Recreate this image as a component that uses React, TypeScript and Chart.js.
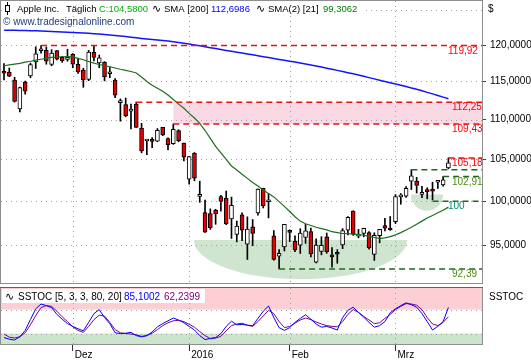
import React, { useEffect, useRef } from 'react';
import { Chart, registerables } from 'chart.js';
Chart.register(...registerables);

// ---------- data ----------
const dates = [
  '11.11.15','12.11.15','13.11.15','16.11.15','17.11.15','18.11.15','19.11.15','20.11.15','23.11.15','24.11.15','25.11.15','27.11.15','30.11.15',
  '01.12.15','02.12.15','03.12.15','04.12.15','07.12.15','08.12.15','09.12.15','10.12.15','11.12.15','14.12.15','15.12.15','16.12.15','17.12.15','18.12.15','21.12.15','22.12.15','23.12.15','24.12.15','28.12.15','29.12.15','30.12.15','31.12.15',
  '04.01.16','05.01.16','06.01.16','07.01.16','08.01.16','11.01.16','12.01.16','13.01.16','14.01.16','15.01.16','19.01.16','20.01.16','21.01.16','22.01.16','25.01.16','26.01.16','27.01.16','28.01.16','29.01.16',
  '01.02.16','02.02.16','03.02.16','04.02.16','05.02.16','08.02.16','09.02.16','10.02.16','11.02.16','12.02.16','16.02.16','17.02.16','18.02.16','19.02.16','22.02.16','23.02.16','24.02.16','25.02.16','26.02.16','29.02.16',
  '01.03.16','02.03.16','03.03.16','04.03.16','07.03.16','08.03.16','09.03.16','10.03.16','11.03.16','14.03.16','15.03.16'
];
const opens = [
  116.37,116.26,115.20,111.38,114.92,115.76,117.64,119.20,119.27,117.33,119.21,118.29,117.99,
  118.75,117.34,116.55,115.29,118.98,117.52,117.64,116.04,115.19,112.18,111.94,111.07,112.02,108.91,107.28,107.40,107.27,109.00,107.59,106.96,108.58,107.01,
  102.61,105.75,100.56,98.68,98.55,98.97,100.55,100.32,97.96,96.20,98.41,95.10,97.06,98.63,101.52,99.93,96.04,93.79,94.79,
  96.47,95.42,95.00,95.86,96.52,93.13,94.29,95.92,93.79,94.19,95.02,96.67,98.84,96.00,96.31,96.40,93.98,96.05,97.20,96.86,
  97.65,100.51,100.58,102.37,102.39,100.78,101.31,101.41,102.24,101.91,103.96
];
const highs = [
  117.42,116.82,115.57,114.24,115.05,117.49,119.75,119.92,119.73,119.35,119.23,118.41,119.41,
  118.81,118.11,116.79,119.25,119.86,118.60,117.69,116.94,115.39,112.68,112.80,111.99,112.25,109.52,107.37,107.72,108.85,109.00,107.69,109.43,108.70,107.03,
  105.37,105.85,102.37,100.13,99.11,99.06,100.69,101.19,100.48,97.71,98.65,98.19,97.88,101.46,101.53,100.88,96.63,94.52,97.34,
  96.71,96.04,96.84,97.33,96.92,95.70,95.94,96.35,94.72,94.50,96.85,98.21,98.89,96.76,96.90,96.50,96.38,96.76,98.02,98.23,
  100.77,100.89,101.71,103.75,102.83,101.76,101.58,102.24,102.28,102.91,105.18
];
const lows = [
  115.21,115.65,112.27,111.00,113.32,115.50,116.76,118.85,117.34,117.12,117.92,117.60,117.75,
  116.86,116.08,114.22,115.11,117.81,116.86,115.08,115.51,112.85,109.79,110.35,108.80,108.98,105.81,105.57,106.45,107.20,107.95,106.18,106.86,107.18,104.82,
  102.00,102.41,99.87,96.43,96.76,97.34,98.84,97.30,95.74,95.36,95.50,93.42,94.94,98.37,99.21,98.07,93.34,92.39,94.35,
  95.40,94.28,94.08,95.19,93.69,93.04,93.93,94.10,92.59,93.01,94.61,96.15,96.09,95.80,95.92,94.55,93.32,95.25,96.58,96.65,
  97.42,99.64,100.45,101.37,100.96,100.40,100.27,100.15,101.50,101.78,103.85
];
const closes = [
  116.11,115.72,112.34,114.18,113.69,117.29,118.78,119.30,117.75,118.88,118.03,117.81,118.30,
  117.34,116.28,115.20,119.03,118.28,118.23,115.62,116.17,113.18,112.48,110.49,111.34,108.98,106.03,107.33,107.23,108.61,108.03,106.82,108.74,107.32,105.26,
  105.35,102.71,100.70,96.45,96.96,98.53,99.96,97.39,99.52,97.13,96.66,96.79,96.30,101.42,99.44,99.99,93.42,94.09,97.34,
  96.43,94.48,96.35,96.60,94.02,95.01,94.99,94.27,93.70,93.99,96.64,98.12,96.26,96.04,96.88,94.69,96.10,96.76,96.91,96.69,
  100.53,100.75,101.50,103.01,101.87,101.03,101.12,101.17,102.26,102.52,104.58
];
const sma200 = [
  122.10,122.09,122.08,122.06,122.05,122.03,122.00,121.98,121.95,121.92,121.88,121.84,121.80,
  121.77,121.74,121.70,121.65,121.60,121.55,121.48,121.42,121.35,121.27,121.19,121.10,121.02,120.93,120.85,120.78,120.70,120.63,120.55,120.45,120.35,120.25,
  120.13,120.02,119.90,119.77,119.63,119.50,119.38,119.25,119.13,119.00,118.88,118.75,118.63,118.50,118.38,118.25,118.13,118.00,117.88,
  117.75,117.63,117.50,117.36,117.22,117.09,116.95,116.80,116.65,116.50,116.35,116.19,116.03,115.86,115.70,115.52,115.35,115.17,115.00,114.83,
  114.67,114.50,114.32,114.13,113.95,113.75,113.55,113.35,113.13,112.92,112.70
];
const sma21 = [
  117.13,117.25,117.36,117.45,117.62,117.75,117.90,118.02,118.15,118.28,118.33,118.37,118.38,
  118.35,118.15,117.95,117.72,117.50,117.30,117.15,117.00,116.82,116.65,116.50,116.35,116.15,115.60,115.00,114.50,114.10,113.70,113.20,112.60,112.00,111.46,
  110.80,110.20,109.50,108.60,107.60,106.60,105.80,105.00,104.20,103.70,103.20,102.70,102.20,101.80,101.30,100.90,100.50,99.95,99.40,
  98.80,98.20,97.70,97.40,97.20,97.00,96.85,96.70,96.50,96.40,96.30,96.28,96.22,96.17,96.10,95.98,95.85,95.72,95.80,95.95,
  96.15,96.40,96.70,97.00,97.35,97.70,98.05,98.35,98.65,98.95,99.31
];
const stochK = [
  10,6,4,12,28,55,82,94,90,85,68,56,45,
  38,32,27,48,70,80,60,45,22,20,21,23,15,12,15,24,37,45,52,59,54,47,
  38,29,15,5,8,10,20,38,51,42,43,41,40,58,76,89,60,35,28,
  35,48,58,67,56,44,36,38,34,29,60,78,86,73,61,48,36,40,50,72,
  82,90,97,92,86,70,50,29,38,50,85.1
];
const stochD = [
  19,11,9,12,22,42,65,85,90,88,76,62,50,
  37,28,23,38,55,66,64,48,30,22,20,19,17,13,15,21,30,40,47,52,53,50,
  43,36,25,15,7,9,13,27,40,44,46,41,38,50,64,78,70,50,35,
  38,46,54,59,55,49,44,40,38,37,50,68,80,73,63,54,45,47,58,68,
  80,88,95,94,91,80,60,44,40,48,62.2
];
const priceTicks = [95, 100, 105, 110, 115, 120];
const priceGrid = [95, 100, 105, 110, 115, 120, 125];
const monthTickIdx = [13, 35, 54, 74];
const monthLabels = ['Dez', '2016', 'Feb', 'Mrz'];

// annotation levels (value, start bar)
const RED = '#e41414';
const DGREEN = '#1c6a1c';
const levels = [
  { value: 119.92, from: 7, color: RED, label: '119,92', labelColor: '#ff0000', lx: 448 },
  { value: 112.25, from: 25, color: RED, label: '112,25', labelColor: '#ff0000', lx: 452 },
  { value: 109.43, from: 32, color: RED, label: '109,43', labelColor: '#ff0000', lx: 452 },
  { value: 105.18, from: 84, color: RED, label: '105,18', labelColor: '#ff0000', lx: 452 },
  { value: 103.75, from: 77, color: DGREEN, label: '', labelColor: '', lx: 0 },
  { value: 102.91, from: 83, color: DGREEN, label: '102,91', labelColor: '#4d8a12', lx: 452 },
  { value: 100.0, from: 81, color: DGREEN, label: '100', labelColor: '#078a6e', lx: 448 },
  { value: 92.39, from: 52, color: DGREEN, label: '92,39', labelColor: '#4d8a12', lx: 452 },
];
const zone = { from: 32, top: 112.25, bottom: 109.43 };
const bowls = [
  { from: 35.9, to: 76.2, top: 95.57, bottom: 91.28 },
  { from: 76.9, to: 83.0, top: 100.77, bottom: 98.9 },
];

const X_MIN = -0.567, X_MAX = 90.35;
const Y_MIN = 90.89, Y_MAX = 126.33;
const FAM = '"Liberation Sans", Arial, sans-serif';
const F = (s: number) => `${s}px ${FAM}`;
const WAVE = (s: number) => `${s}px "DejaVu Sans", sans-serif`;

const fmtPrice = (v: number) => v.toFixed(4).replace('.', ',');

function dotted(ctx: CanvasRenderingContext2D) {
  ctx.strokeStyle = '#a2a2a2';
  ctx.lineWidth = 1;
  ctx.setLineDash([1, 4]);
}

const mainPlugin = {
  id: 'mainDeco',
  beforeDatasetsDraw(chart: any) {
    const { ctx, chartArea: a, scales } = chart;
    const xs = scales.x, ys = scales.y;
    ctx.save();
    ctx.beginPath();
    ctx.rect(a.left, a.top, a.right - a.left, a.bottom - a.top);
    ctx.clip();
    const zx = xs.getPixelForValue(zone.from);
    const zy1 = ys.getPixelForValue(zone.top);
    const zy2 = ys.getPixelForValue(zone.bottom);
    ctx.fillStyle = 'rgba(246,165,190,0.42)';
    ctx.fillRect(zx, zy1, a.right - zx, zy2 - zy1);
    ctx.fillStyle = 'rgba(150,198,150,0.45)';
    for (const b of bowls) {
      const x0 = xs.getPixelForValue(b.from), x1 = xs.getPixelForValue(b.to);
      const yt = ys.getPixelForValue(b.top), yb = ys.getPixelForValue(b.bottom);
      ctx.beginPath();
      ctx.ellipse((x0 + x1) / 2, yt, (x1 - x0) / 2, yb - yt, 0, 0, Math.PI);
      ctx.closePath();
      ctx.fill();
    }
    dotted(ctx);
    ctx.beginPath();
    for (const v of priceGrid) {
      const y = Math.round(ys.getPixelForValue(v)) + 0.5;
      ctx.moveTo(a.left, y); ctx.lineTo(a.right, y);
    }
    for (const t of monthTickIdx) {
      const x = Math.round(xs.getPixelForValue(t)) + 0.5;
      ctx.moveTo(x, a.top); ctx.lineTo(x, a.bottom);
    }
    ctx.stroke();
    ctx.restore();
  },
  afterDatasetsDraw(chart: any) {
    const { ctx, chartArea: a, scales } = chart;
    const xs = scales.x, ys = scales.y;
    ctx.save();
    ctx.lineWidth = 1.5;
    ctx.setLineDash([6, 4]);
    for (const L of levels) {
      const y = ys.getPixelForValue(L.value);
      const x0 = xs.getPixelForValue(L.from);
      ctx.strokeStyle = L.color;
      ctx.beginPath(); ctx.moveTo(x0, y); ctx.lineTo(a.right, y); ctx.stroke();
    }
    ctx.setLineDash([]);
    ctx.font = F(10);
    ctx.textBaseline = 'middle';
    ctx.textAlign = 'left';
    for (const L of levels) {
      if (!L.label) continue;
      const y = ys.getPixelForValue(L.value);
      ctx.fillStyle = L.labelColor;
      ctx.fillText(L.label, L.lx, y + 5.5);
    }
    ctx.restore();
  },
  afterDraw(chart: any) {
    const { ctx, chartArea: a } = chart;
    ctx.save();
    ctx.strokeStyle = '#8e8e8e';
    ctx.lineWidth = 1;
    ctx.strokeRect(a.left - 0.5, a.top - 0.5, a.right - a.left + 1, a.bottom - a.top + 1);
    ctx.fillStyle = '#ffffff';
    ctx.fillRect(2, 1, 360, 15);
    ctx.strokeStyle = '#000';
    ctx.beginPath(); ctx.moveTo(7.5, 2); ctx.lineTo(7.5, 15); ctx.stroke();
    ctx.fillStyle = '#fff';
    ctx.fillRect(5.5, 5.5, 4, 6);
    ctx.strokeRect(5.5, 5.5, 4, 6);
    ctx.textBaseline = 'middle';
    ctx.textAlign = 'left';
    const row1: [string, number, string, string][] = [
      ['Apple Inc.', 17, '#000000', F(9.5)],
      ['Täglich', 66, '#000000', F(9.5)],
      ['C:104,5800', 99, '#00b400', F(9.5)],
      ['∿', 152, '#000000', WAVE(11)],
      ['SMA [200]', 164, '#000000', F(9.5)],
      ['112,6986', 211, '#0000ff', F(9.5)],
      ['∿', 256, '#000000', WAVE(11)],
      ['SMA(2) [21]', 268, '#000000', F(9.5)],
      ['99,3062', 323, '#008000', F(9.5)],
    ];
    for (const [t, x, c, f] of row1) {
      ctx.font = f; ctx.fillStyle = c; ctx.fillText(t, x, 9);
    }
    ctx.font = F(10);
    ctx.fillStyle = '#1f3d7a';
    ctx.fillText('© www.tradesignalonline.com', 3, 22);
    ctx.fillStyle = '#000';
    ctx.fillText('$', 488, 9);
    ctx.restore();
  },
};

const stochPlugin = {
  id: 'stochDeco',
  beforeDatasetsDraw(chart: any) {
    const { ctx, chartArea: a, scales } = chart;
    const xs = scales.x, ys = scales.y;
    ctx.save();
    const y80 = ys.getPixelForValue(80);
    const y20 = ys.getPixelForValue(20);
    ctx.fillStyle = 'rgba(248,160,170,0.5)';
    ctx.fillRect(a.left, a.top, a.right - a.left, y80 - a.top);
    ctx.fillStyle = 'rgba(140,195,140,0.45)';
    ctx.fillRect(a.left, y20, a.right - a.left, a.bottom - y20);
    dotted(ctx);
    ctx.beginPath();
    for (const v of [80, 20]) {
      const y = Math.round(ys.getPixelForValue(v)) + 0.5;
      ctx.moveTo(a.left, y); ctx.lineTo(a.right, y);
    }
    for (const t of monthTickIdx) {
      const x = Math.round(xs.getPixelForValue(t)) + 0.5;
      ctx.moveTo(x, a.top); ctx.lineTo(x, a.bottom);
    }
    ctx.stroke();
    ctx.restore();
  },
  afterDraw(chart: any) {
    const { ctx, chartArea: a } = chart;
    ctx.save();
    ctx.strokeStyle = '#8e8e8e';
    ctx.lineWidth = 1;
    ctx.strokeRect(a.left - 0.5, a.top - 0.5, a.right - a.left + 1, a.bottom - a.top + 1);
    ctx.strokeStyle = '#606060';
    ctx.beginPath(); ctx.moveTo(a.left - 1, a.top - 0.5); ctx.lineTo(a.right + 1, a.top - 0.5); ctx.stroke();
    ctx.fillStyle = '#ffffff';
    ctx.fillRect(2, a.top + 1, 203, 14);
    ctx.textBaseline = 'middle';
    ctx.textAlign = 'left';
    const yy = a.top + 9;
    ctx.font = WAVE(11); ctx.fillStyle = '#000'; ctx.fillText('∿', 5, yy);
    ctx.font = F(10);
    ctx.fillText('SSTOC [5, 3, 3, 80, 20]', 18, yy);
    ctx.fillStyle = '#0000ff'; ctx.fillText('85,1002', 124, yy);
    ctx.fillStyle = '#800080'; ctx.fillText('62,2399', 164, yy);
    ctx.fillStyle = '#000'; ctx.fillText('SSTOC', 489, yy);
    ctx.restore();
  },
};

const noPad = (s: any) => { s.paddingTop = 0; s.paddingBottom = 0; s.paddingLeft = 0; s.paddingRight = 0; };

function mainConfig(): any {
  const idx = dates.map((_, i) => i);
  return {
    type: 'bar',
    data: {
      datasets: [
        {
          type: 'line', label: 'SMA 200', order: 0,
          data: idx.map(i => ({ x: i, y: sma200[i] })),
          borderColor: '#1414ff', borderWidth: 1.5, pointRadius: 0, tension: 0,
        },
        {
          type: 'line', label: 'SMA 21', order: 0,
          data: idx.map(i => ({ x: i, y: sma21[i] })),
          borderColor: '#1e6e1e', borderWidth: 1.2, pointRadius: 0, tension: 0,
        },
        {
          type: 'bar', label: 'body', order: 1, grouped: false,
          data: idx.map(i => ({ x: i, y: [opens[i], closes[i]] })),
          backgroundColor: idx.map(i => (closes[i] >= opens[i] ? '#ffffff' : '#e00000')),
          borderColor: '#000000', borderWidth: 1, borderSkipped: false,
          maxBarThickness: 4, barPercentage: 1, categoryPercentage: 1, minBarLength: 2,
        },
        {
          type: 'bar', label: 'wick', order: 2, grouped: false,
          data: idx.map(i => ({ x: i, y: [lows[i], highs[i]] })),
          backgroundColor: '#000000', borderWidth: 0,
          maxBarThickness: 1, barPercentage: 1, categoryPercentage: 1,
        },
      ],
    },
    options: {
      responsive: false, animation: false, devicePixelRatio: 1, events: [],
      layout: { padding: { left: 1, top: 1, right: 0, bottom: 2 } },
      plugins: { legend: { display: false }, tooltip: { enabled: false } },
      scales: {
        x: { type: 'linear', min: X_MIN, max: X_MAX, display: false, offset: false },
        y: {
          type: 'logarithmic', position: 'right', min: Y_MIN, max: Y_MAX, bounds: 'data', beginAtZero: false,
          afterBuildTicks: (s: any) => { s.ticks = priceTicks.map(v => ({ value: v })); },
          afterFit: (s: any) => { s.width = 49; noPad(s); },
          grid: { drawOnChartArea: false, drawTicks: true, tickLength: 4, tickColor: '#404040' },
          border: { display: false },
          ticks: { autoSkip: false, padding: 4, color: '#000', font: { family: FAM, size: 10 }, callback: (v: any) => fmtPrice(Number(v)) },
        },
      },
    },
    plugins: [mainPlugin],
  };
}

function stochConfig(): any {
  const idx = dates.map((_, i) => i);
  return {
    type: 'line',
    data: {
      datasets: [
        { label: 'K', data: idx.map(i => ({ x: i, y: stochK[i] })), borderColor: '#0000ff', borderWidth: 1, pointRadius: 0, tension: 0 },
        { label: 'D', data: idx.map(i => ({ x: i, y: stochD[i] })), borderColor: '#800080', borderWidth: 1, pointRadius: 0, tension: 0 },
      ],
    },
    options: {
      responsive: false, animation: false, devicePixelRatio: 1, events: [],
      layout: { padding: { left: 1, top: 1, right: 0, bottom: 0 } },
      plugins: { legend: { display: false }, tooltip: { enabled: false } },
      scales: {
        x: {
          type: 'linear', min: X_MIN, max: X_MAX, position: 'bottom', offset: false,
          afterBuildTicks: (s: any) => { s.ticks = monthTickIdx.map(v => ({ value: v })); },
          afterFit: (s: any) => { s.height = 16; noPad(s); },
          grid: { drawOnChartArea: false, drawTicks: true, tickLength: 7, tickColor: '#303030' },
          border: { display: false },
          ticks: {
            autoSkip: false, maxRotation: 0, minRotation: 0, align: 'start', labelOffset: 2, padding: -2,
            color: '#000', font: { family: FAM, size: 10 },
            callback: (v: any) => { const k = monthTickIdx.indexOf(Number(v)); return k >= 0 ? monthLabels[k] : ''; },
          },
        },
        y: {
          type: 'linear', position: 'right', min: -6, max: 134,
          afterFit: (s: any) => { s.width = 49; noPad(s); },
          ticks: { display: false }, grid: { display: false }, border: { display: false },
        },
      },
    },
    plugins: [stochPlugin],
  };
}

export default function App() {
  const mainRef = useRef<HTMLCanvasElement>(null);
  const stochRef = useRef<HTMLCanvasElement>(null);
  useEffect(() => {
    const c1 = new Chart(mainRef.current as HTMLCanvasElement, mainConfig());
    const c2 = new Chart(stochRef.current as HTMLCanvasElement, stochConfig());
    return () => { c1.destroy(); c2.destroy(); };
  }, []);
  return (
    <div style={{ position: 'fixed', left: 0, top: 0, width: 531, height: 360, background: '#fff', overflow: 'hidden' }}>
      <canvas ref={mainRef} width={531} height={285} style={{ position: 'absolute', left: 0, top: 0, width: 531, height: 285 }} />
      <canvas ref={stochRef} width={531} height={73} style={{ position: 'absolute', left: 0, top: 287, width: 531, height: 73 }} />
    </div>
  );
}
